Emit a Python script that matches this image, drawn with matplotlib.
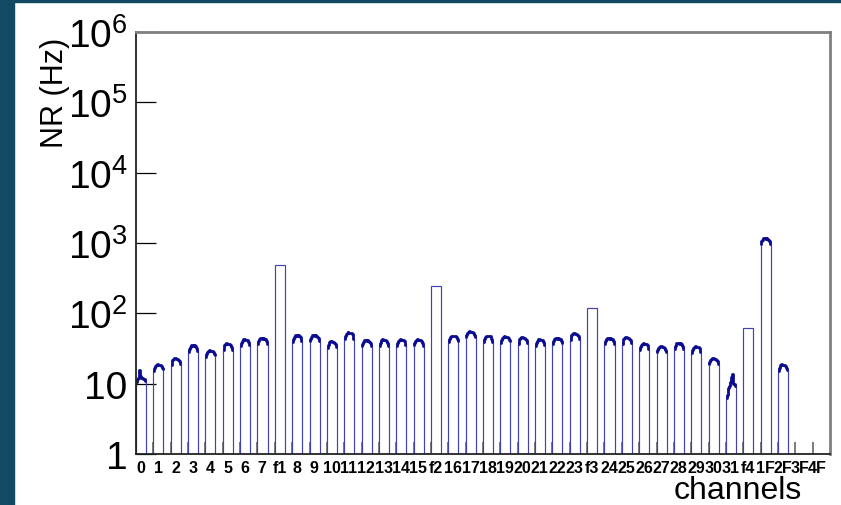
import matplotlib
matplotlib.use("Agg")
import matplotlib.pyplot as plt
from matplotlib.patches import Rectangle
from matplotlib.ticker import LogLocator, NullFormatter

plt.rcParams["font.family"] = ["Liberation Sans", "DejaVu Sans"]
plt.rcParams["mathtext.fontset"] = "custom"
plt.rcParams["mathtext.rm"] = "Liberation Sans"
plt.rcParams["mathtext.it"] = "Liberation Sans:italic"

# one entry per channel bin
channels = ["0", "1", "2", "3", "4", "5", "6", "7", "f1",
            "8", "9", "10", "11", "12", "13", "14", "15", "f2",
            "16", "17", "18", "19", "20", "21", "22", "23", "f3",
            "24", "25", "26", "27", "28", "29", "30", "31", "f4",
            "1F", "2F", "3F", "4F"]
rate_hz = [11.5, 18, 22, 34, 28.5, 35.5, 41, 43, 490,
           47, 47, 38.5, 51, 40, 40.5, 41, 40.5, 243,
           46, 53, 46, 45, 44, 41, 43, 50, 119,
           43, 44, 36, 32.5, 36.5, 32.5, 22, 10, 61,
           1130, 18, 0, 0]
flat_top = ["f1", "f2", "f3", "f4"]

# relative wiggle across the top of a noisy channel (12 sub-bins)
top_shape = [0.84, 0.93, 0.99, 1.03, 1.05, 1.04, 1.02, 1.03, 1.02, 0.99, 0.94, 0.86]
ch0_top = [10.5, 11.5, 12.0, 13.5, 15.5, 13.0, 12.0, 12.0, 11.8, 11.5, 11.5, 11.0]
ch31_top = [6.3, 7.0, 7.8, 8.6, 9.4, 10.5, 12.5, 13.5, 11.5, 10.0, 9.8, 9.4]

bar_width = 0.58
floor = 0.1
nsub = len(top_shape)

fig = plt.figure(figsize=(8.41, 5.06), dpi=100)
fig.patch.set_facecolor("white")
ax = fig.add_axes([136 / 841, 1 - 455 / 506, 694 / 841, 422 / 506])

xs, ys = [], []
tops = []
for i, (name, r) in enumerate(zip(channels, rate_hz)):
    if r <= 0:
        continue
    if name == "0":
        levels = ch0_top
    elif name == "31":
        levels = ch31_top
    elif name in flat_top:
        levels = [r] * nsub
    else:
        levels = [r * s for s in top_shape]
    edges = [i + bar_width * k / nsub for k in range(nsub + 1)]
    tx, ty = [], []
    for k, lv in enumerate(levels):
        tx += [edges[k], edges[k + 1]]
        ty += [lv, lv]
    xs += [i] + tx + [i + bar_width]
    ys += [floor] + ty + [floor]
    if name not in flat_top:
        tops.append((tx, ty))

ax.plot(xs, ys, color="#4242b8", lw=0.85, solid_joinstyle="miter")
for tx, ty in tops:
    ax.plot(tx, ty, color="#0c0c90", lw=2.0, solid_capstyle="butt")

ax.set_yscale("log")
ax.set_ylim(1, 1e6)
ax.set_xlim(0, len(channels))

ax.set_yticks([1, 10, 1e2, 1e3, 1e4, 1e5, 1e6],
              ["1", "10", "$10^{2}$", "$10^{3}$", "$10^{4}$", "$10^{5}$", "$10^{6}$"])
ax.yaxis.set_minor_locator(LogLocator(base=10, subs=range(2, 10)))
ax.yaxis.set_minor_formatter(NullFormatter())
ax.tick_params(axis="y", which="major", direction="in", length=14.5, width=0.9,
               labelsize=28, pad=6)
ax.tick_params(axis="y", which="minor", direction="in", length=7, width=0.8)

ax.set_xticks([i + 0.28 for i in range(len(channels))], channels)
ax.set_xticks(range(1, len(channels)), minor=True)
ax.tick_params(axis="x", which="major", length=0, labelsize=11.5, pad=4)
ax.tick_params(axis="x", which="minor", direction="in", length=8.5, width=1.2,
               color="#666666")
for lab in ax.get_xticklabels():
    lab.set_fontweight("bold")

for side in ["left", "bottom"]:
    ax.spines[side].set_linewidth(1.3)
    ax.spines[side].set_color("#222222")
for side in ["top", "right"]:
    ax.spines[side].set_linewidth(2.0)
    ax.spines[side].set_color("#808080")

fig.text(55 / 841, 1 - 38 / 506, "NR (Hz)", rotation=90, ha="center", va="top",
         fontsize=22)
fig.text(802 / 841, 1 - 499 / 506, "channels", ha="right", va="baseline",
         fontsize=23)

# dark frame strips along the left and top edges
fig.patches.append(Rectangle((0, 0), 14 / 841, 1, transform=fig.transFigure,
                             color="#134a63", zorder=10))
fig.patches.append(Rectangle((0, 1 - 3 / 506), 1, 3 / 506, transform=fig.transFigure,
                             color="#134a63", zorder=10))

fig.savefig("out.png", dpi=100)
